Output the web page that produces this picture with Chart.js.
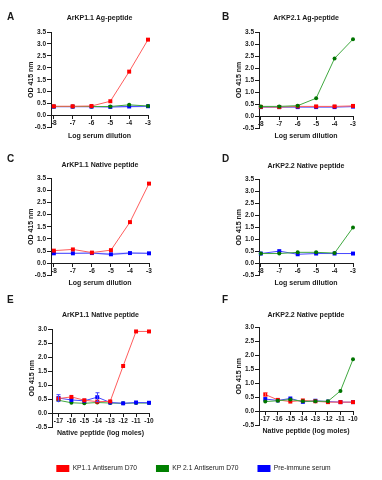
<!DOCTYPE html>
<html>
<head>
<meta charset="utf-8">
<script src="https://cdn.jsdelivr.net/npm/chart.js@4"></script>
<style>
body { margin: 0; background: #fff; width: 382px; height: 480px; position: relative; overflow: hidden; font-family: Arial, 'Liberation Sans', sans-serif; color: #1a1a1a; }
canvas { position: absolute; }
.tag { position: absolute; font-weight: bold; font-size: 10px; line-height: 10px; }
</style>
</head>
<body>
<canvas id="pa" width="191" height="150" style="left:0;top:0"></canvas>
<canvas id="pb" width="191" height="150" style="left:191px;top:0"></canvas>
<canvas id="pc" width="191" height="150" style="left:0;top:150px"></canvas>
<canvas id="pd" width="191" height="150" style="left:191px;top:150px"></canvas>
<canvas id="pe" width="191" height="150" style="left:0;top:300px"></canvas>
<canvas id="pf" width="191" height="150" style="left:191px;top:300px"></canvas>
<canvas id="leg" width="382" height="80" style="left:0;top:446px"></canvas>

<div class="tag" style="left:7px;top:12px">A</div>
<div class="tag" style="left:222px;top:12px">B</div>
<div class="tag" style="left:7px;top:154px">C</div>
<div class="tag" style="left:222px;top:154px">D</div>
<div class="tag" style="left:7px;top:295px">E</div>
<div class="tag" style="left:222px;top:295px">F</div>

<script>
// x values
const dilution = [-8, -7, -6, -5, -4, -3]
const moles = [-17, -16, -15, -14, -13, -12, -11, -10]

// legend
const seriesNames = ['KP1.1 Antiserum D70', 'KP 2.1 Antiserum D70', 'Pre-immune serum']

// A: ArKP1.1 Ag-peptide
const aRed = [0.39, 0.39, 0.40, 0.60, 1.84, 3.18]
const aGreen = [0.38, 0.38, 0.38, 0.38, 0.45, 0.40]
const aBlue = [0.37, 0.37, 0.37, 0.36, 0.38, 0.39]
const aBlueErr = [0.01, 0.01, 0.01, 0.02, 0.05, 0.03]

// B: ArKP2.1 Ag-peptide
const bRed = [0.38, 0.37, 0.40, 0.40, 0.40, 0.42]
const bGreen = [0.40, 0.40, 0.43, 0.74, 2.40, 3.20]
const bBlue = [0.37, 0.37, 0.37, 0.37, 0.37, 0.39]

// C: ArKP1.1 Native peptide
const cRed = [0.52, 0.57, 0.44, 0.54, 1.69, 3.27]
const cBlue = [0.41, 0.41, 0.42, 0.37, 0.42, 0.41]
const cBlueErr = [0.02, 0.02, 0.03, 0.05, 0.04, 0.03]

// D: ArKP2.2 Native peptide
const dGreen = [0.41, 0.41, 0.46, 0.46, 0.43, 1.49]
const dBlue = [0.41, 0.51, 0.38, 0.41, 0.41, 0.41]

// E: ArKP1.1 Native peptide (log moles)
const eRed = [0.52, 0.58, 0.46, 0.41, 0.42, 1.69, 2.93, 2.93]
const eGreen = [0.46, 0.37, 0.35, 0.38, 0.36, 0.35, 0.36, 0.36]
const eBlue = [0.54, 0.47, 0.44, 0.57, 0.38, 0.35, 0.38, 0.37]
const eBlueErr = [0.12, 0, 0, 0.16, 0, 0, 0, 0]

// F: ArKP2.2 Native peptide (log moles)
const fRed = [0.60, 0.41, 0.35, 0.39, 0.36, 0.33, 0.33, 0.33]
const fRedErr = [0.07, 0, 0, 0, 0, 0, 0, 0]
const fGreen = [0.35, 0.38, 0.42, 0.36, 0.36, 0.36, 0.73, 1.85]
const fBlue = [0.44, 0.39, 0.46, 0.34, 0.38, 0.35, 0.33, 0.33]

Chart.defaults.font.family = "Arial, 'Liberation Sans', sans-serif"
Chart.defaults.color = '#1a1a1a'

const RED = { line: '#ff5c5c', mark: '#ff0000', shape: 'rect', r: 2.8, key: '#ff0000' }
const GREEN = { line: '#3fa83f', mark: '#007400', shape: 'circle', r: 2, key: '#008000' }
const BLUE = { line: '#4646ff', mark: '#0000ff', shape: 'rect', r: 2.8, key: '#0000ff' }

// error bars + shaded error band, both read through the chart scales
const errorPlugin = {
    id: 'errors',
    beforeDatasetsDraw(chart) {
        const { ctx, scales: { x, y } } = chart
        chart.data.datasets.forEach(ds => {
            if (!ds.band) return
            ctx.save()
            ctx.fillStyle = 'rgba(120,120,255,0.35)'
            ctx.beginPath()
            ds.data.forEach((p, j) => {
                const px = x.getPixelForValue(p.x), py = y.getPixelForValue(p.y + ds.band[j])
                j ? ctx.lineTo(px, py) : ctx.moveTo(px, py)
            })
            for (let j = ds.data.length - 1; j >= 0; j--) {
                const p = ds.data[j]
                ctx.lineTo(x.getPixelForValue(p.x), y.getPixelForValue(p.y - ds.band[j]))
            }
            ctx.closePath()
            ctx.fill()
            ctx.restore()
        })
    },
    afterDatasetsDraw(chart) {
        const { ctx, scales: { x, y } } = chart
        chart.data.datasets.forEach(ds => {
            if (!ds.errors) return
            ctx.save()
            ctx.strokeStyle = ds.borderColor
            ctx.lineWidth = 1
            ds.data.forEach((p, j) => {
                const e = ds.errors[j]
                if (!e) return
                const px = Math.round(x.getPixelForValue(p.x)) + 0.5
                const t = y.getPixelForValue(p.y + e), b = y.getPixelForValue(p.y - e)
                ctx.beginPath()
                ctx.moveTo(px, t); ctx.lineTo(px, b)
                ctx.moveTo(px - 2, t); ctx.lineTo(px + 2, t)
                ctx.moveTo(px - 2, b); ctx.lineTo(px + 2, b)
                ctx.stroke()
            })
            ctx.restore()
        })
    }
}

const tickFont = { size: 6.5, weight: 'bold' }
const titleFont = { size: 7, weight: 'bold' }

function panel(id, cfg) {
    const el = document.getElementById(id)
    const W = el.width, H = el.height, a = cfg.area
    const yW = 24
    const datasets = cfg.series.map(s => ({
        data: cfg.xs.map((x, i) => ({ x, y: s.values[i] })),
        borderColor: s.look.line,
        backgroundColor: s.look.mark,
        pointBackgroundColor: s.look.mark,
        pointBorderColor: s.look.mark,
        pointStyle: s.look.shape,
        pointRadius: s.look.r,
        pointBorderWidth: 0,
        borderWidth: 1,
        tension: 0,
        clip: false,
        order: s.order,
        errors: s.errors,
        band: s.band
    }))
    return new Chart(el, {
        type: 'line',
        data: { datasets },
        options: {
            responsive: false,
            animation: false,
            events: [],
            layout: {
                padding: { left: a.left - yW, right: W - a.right, top: 0, bottom: H - a.bottom }
            },
            scales: {
                x: {
                    type: 'linear',
                    position: { y: 0 },
                    min: cfg.xMin,
                    max: cfg.xs[cfg.xs.length - 1],
                    afterBuildTicks: s => { s.ticks = cfg.xs.map(v => ({ value: v })) },
                    ticks: { font: tickFont, padding: 1, autoSkip: false, maxRotation: 0, callback: v => String(v) },
                    grid: { display: true, drawOnChartArea: false, tickLength: 3, color: '#1a1a1a' },
                    border: { color: '#1a1a1a', width: 1 },
                    title: { display: true, text: cfg.xTitle, font: titleFont, padding: { top: 3, bottom: 0 } }
                },
                y: {
                    min: -0.5,
                    max: cfg.yMax,
                    afterFit: s => { s.width = yW },
                    ticks: { font: tickFont, padding: 1, stepSize: 0.5, callback: v => v.toFixed(1) },
                    grid: { display: true, drawOnChartArea: false, tickLength: 4, color: '#1a1a1a' },
                    border: { color: '#1a1a1a', width: 1 },
                    title: { display: true, text: 'OD 415 nm', font: titleFont, padding: 0 }
                }
            },
            plugins: {
                legend: { display: false },
                tooltip: { enabled: false },
                title: {
                    display: true,
                    text: cfg.title,
                    fullSize: false,
                    font: titleFont,
                    padding: { top: cfg.titleY - 4.2, bottom: a.top - cfg.titleY - 4.2 }
                }
            }
        },
        plugins: [errorPlugin]
    })
}

const serumX = 'Log serum dilution'
const molesX = 'Native peptide (log moles)'

panel('pa', {
    title: 'ArKP1.1 Ag-peptide', xTitle: serumX, xs: dilution, xMin: -8.15, yMax: 3.5,
    area: { left: 51, right: 148, top: 32, bottom: 127.5 }, titleY: 18,
    series: [
        { values: aBlue, look: BLUE, order: 3, band: aBlueErr },
        { values: aGreen, look: GREEN, order: 2 },
        { values: aRed, look: RED, order: 1 }
    ]
})
panel('pb', {
    title: 'ArKP2.1 Ag-peptide', xTitle: serumX, xs: dilution, xMin: -8.1, yMax: 3.5,
    area: { left: 68, right: 162, top: 32, bottom: 128 }, titleY: 18.5,
    series: [
        { values: bBlue, look: BLUE, order: 3 },
        { values: bRed, look: RED, order: 2 },
        { values: bGreen, look: GREEN, order: 1 }
    ]
})
panel('pc', {
    title: 'ArKP1.1 Native peptide', xTitle: serumX, xs: dilution, xMin: -8.15, yMax: 3.5,
    area: { left: 51, right: 149, top: 28, bottom: 125.5 }, titleY: 15,
    series: [
        { values: cBlue, look: BLUE, order: 2, band: cBlueErr },
        { values: cRed, look: RED, order: 1 }
    ]
})
panel('pd', {
    title: 'ArKP2.2 Native peptide', xTitle: serumX, xs: dilution, xMin: -8.1, yMax: 3.5,
    area: { left: 68, right: 162, top: 29, bottom: 125.5 }, titleY: 15.7,
    series: [
        { values: dBlue, look: BLUE, order: 2 },
        { values: dGreen, look: GREEN, order: 1 }
    ]
})
panel('pe', {
    title: 'ArKP1.1 Native peptide', xTitle: molesX, xs: moles, xMin: -17.5, yMax: 3.0,
    area: { left: 52, right: 149, top: 29.5, bottom: 127 }, titleY: 15.5,
    series: [
        { values: eGreen, look: GREEN, order: 3 },
        { values: eBlue, look: BLUE, order: 2, errors: eBlueErr },
        { values: eRed, look: RED, order: 1 }
    ]
})
panel('pf', {
    title: 'ArKP2.2 Native peptide', xTitle: molesX, xs: moles, xMin: -17.5, yMax: 3.0,
    area: { left: 68, right: 162, top: 27, bottom: 125.5 }, titleY: 15,
    series: [
        { values: fBlue, look: BLUE, order: 3 },
        { values: fRed, look: RED, order: 2, errors: fRedErr },
        { values: fGreen, look: GREEN, order: 1 }
    ]
})

// shared legend, drawn by Chart.js in its own canvas
new Chart(document.getElementById('leg'), {
    type: 'line',
    data: {
        datasets: [RED, GREEN, BLUE].map((look, i) => ({
            label: seriesNames[i],
            data: [],
            backgroundColor: look.key,
            borderColor: look.key,
            borderWidth: 0
        }))
    },
    options: {
        responsive: false,
        animation: false,
        events: [],
        layout: { padding: { left: 5, right: 0 } },
        scales: { x: { display: false }, y: { display: false } },
        plugins: {
            tooltip: { enabled: false },
            legend: {
                display: true,
                position: 'top',
                labels: { boxWidth: 13, boxHeight: 7, padding: 19, font: { size: 6.7 }, color: '#1a1a1a' }
            }
        }
    }
})
</script>
</body>
</html>
